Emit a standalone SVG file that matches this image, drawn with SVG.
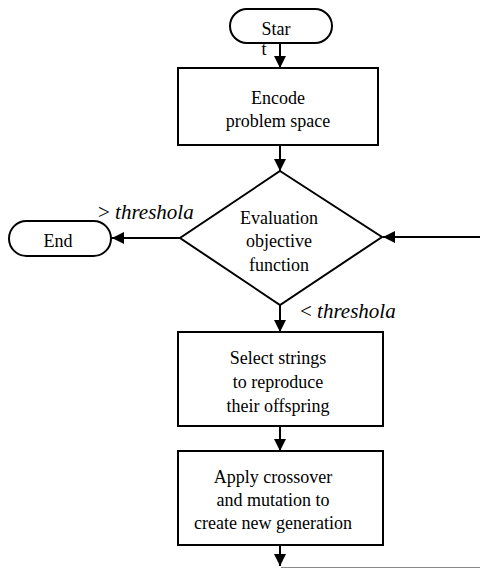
<svg xmlns="http://www.w3.org/2000/svg" width="480" height="569" viewBox="0 0 480 569">
<style>
.shape{fill:#fff;stroke:#000;stroke-width:2}
.t{font-family:"Liberation Serif","Times New Roman",serif;font-size:18px;fill:#000;text-anchor:middle}
.lbl{font-family:"Liberation Serif","Times New Roman",serif;font-size:21px;fill:#000}
.c{fill:none;stroke:#000;stroke-width:2}
</style>
<defs>
<marker id="ah" viewBox="0 0 12 12" refX="12" refY="6" markerWidth="12" markerHeight="12" markerUnits="userSpaceOnUse" orient="auto">
<path d="M0,0 L12,6 L0,12 Z" fill="#000"/>
</marker>
</defs>
<g id="connectors">
<line class="c" x1="280" y1="43" x2="280" y2="68" marker-end="url(#ah)"/>
<line class="c" x1="280" y1="145" x2="280" y2="171" marker-end="url(#ah)"/>
<line class="c" x1="180" y1="238" x2="112" y2="238" marker-end="url(#ah)"/>
<line class="c" x1="480" y1="237" x2="383" y2="237" marker-end="url(#ah)"/>
<line class="c" x1="280" y1="305" x2="280" y2="332" marker-end="url(#ah)"/>
<line class="c" x1="280" y1="426" x2="280" y2="451" marker-end="url(#ah)"/>
<line class="c" x1="280" y1="545" x2="280" y2="566" marker-end="url(#ah)"/>
<line x1="281" y1="567.5" x2="480" y2="567.5" stroke="#888" stroke-width="1"/>
<text class="lbl" x="98" y="219"><tspan>&gt; </tspan><tspan font-style="italic">threshola</tspan></text>
<text class="lbl" x="300" y="318"><tspan>&lt; </tspan><tspan font-style="italic">threshola</tspan></text>
</g>
<g id="start">
<rect class="shape" x="230" y="9" width="102" height="34" rx="17"/>
<text class="t" x="276" y="35">Star</text>
<text class="t" x="264" y="55">t</text>
</g>
<g id="encode">
<rect class="shape" x="178" y="68" width="200" height="77"/>
<text class="t" x="278" y="104">Encode</text>
<text class="t" x="278" y="127">problem space</text>
</g>
<g id="evaluate">
<polygon class="shape" points="280,171 382,237 280,305 180,238"/>
<text class="t" x="279" y="224">Evaluation</text>
<text class="t" x="279" y="247">objective</text>
<text class="t" x="279" y="271">function</text>
</g>
<g id="end">
<rect class="shape" x="9" y="221" width="102" height="35" rx="17.5"/>
<text class="t" x="58" y="247">End</text>
</g>
<g id="select">
<rect class="shape" x="178" y="332" width="205" height="94"/>
<text class="t" x="278" y="364">Select strings</text>
<text class="t" x="278" y="388">to reproduce</text>
<text class="t" x="278" y="412">their offspring</text>
</g>
<g id="apply">
<rect class="shape" x="178" y="451" width="205" height="94"/>
<text class="t" x="273" y="483">Apply crossover</text>
<text class="t" x="273" y="506">and mutation to</text>
<text class="t" x="273" y="529">create new generation</text>
</g>
</svg>
